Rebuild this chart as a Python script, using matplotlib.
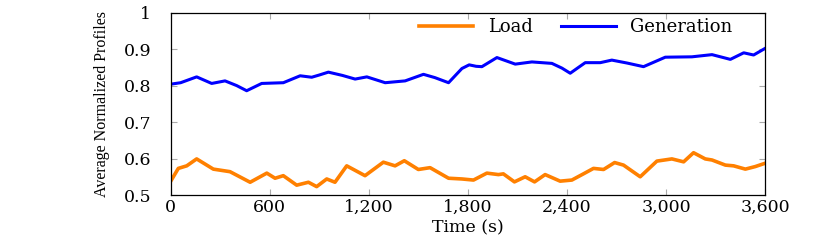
import matplotlib
matplotlib.use("Agg")
import matplotlib.pyplot as plt
from matplotlib.ticker import FuncFormatter, FixedLocator

# Data
gen_t = [0, 60, 157, 248, 329, 400, 460, 551, 682, 784, 854, 899, 955, 1040, 1117, 1188,
         1299, 1420, 1531, 1600, 1683, 1764, 1808, 1850, 1885, 1976, 2087, 2188, 2309,
         2370, 2420, 2470, 2511, 2602, 2672, 2764, 2864, 2996, 3157, 3279, 3390, 3471,
         3531, 3600]
gen_v = [0.804, 0.808, 0.824, 0.806, 0.813, 0.800, 0.786, 0.806, 0.808, 0.827, 0.823, 0.829,
         0.837, 0.828, 0.818, 0.824, 0.808, 0.813, 0.831, 0.822, 0.808, 0.847, 0.857, 0.853,
         0.852, 0.877, 0.859, 0.865, 0.861, 0.848, 0.834, 0.850, 0.863, 0.863, 0.870, 0.862,
         0.852, 0.878, 0.879, 0.885, 0.872, 0.890, 0.884, 0.902]

load_t = [0, 46, 97, 157, 258, 359, 481, 582, 632, 682, 763, 834, 884, 945, 995, 1066,
          1177, 1288, 1359, 1415, 1500, 1571, 1683, 1764, 1834, 1915, 1985, 2015, 2082,
          2147, 2204, 2268, 2359, 2430, 2500, 2561, 2622, 2689, 2743, 2844, 2945, 3036,
          3107, 3167, 3238, 3279, 3360, 3410, 3481, 3541, 3600]
load_v = [0.538, 0.573, 0.580, 0.599, 0.571, 0.564, 0.535, 0.560, 0.546, 0.553, 0.527,
          0.535, 0.523, 0.544, 0.535, 0.580, 0.553, 0.590, 0.580, 0.594, 0.570, 0.575,
          0.546, 0.544, 0.541, 0.560, 0.556, 0.558, 0.536, 0.550, 0.536, 0.556, 0.538,
          0.541, 0.558, 0.573, 0.570, 0.589, 0.582, 0.550, 0.593, 0.599, 0.591, 0.616,
          0.599, 0.596, 0.582, 0.580, 0.571, 0.578, 0.587]

x_ticks = [0, 600, 1200, 1800, 2400, 3000, 3600]
y_ticks = [0.5, 0.6, 0.7, 0.8, 0.9, 1.0]

plt.rcParams['font.family'] = ['DejaVu Serif']

fig = plt.figure(figsize=(8.3, 2.43), dpi=100)
ax = fig.add_axes([0.2057, 0.1975, 0.7160, 0.7502])

ax.plot(load_t, load_v, color=(1.0, 0.5, 0.0), lw=2.6, label='Load', solid_joinstyle='round')
ax.plot(gen_t, gen_v, color=(0.0, 0.0, 1.0), lw=2.2, label='Generation', solid_joinstyle='round')

ax.set_xlim(0, 3600)
ax.set_ylim(0.5, 1.0)
ax.xaxis.set_major_locator(FixedLocator(x_ticks))
ax.yaxis.set_major_locator(FixedLocator(y_ticks))
ax.xaxis.set_major_formatter(FuncFormatter(lambda v, p: f"{int(v):,}"))
ax.yaxis.set_major_formatter(FuncFormatter(lambda v, p: "1" if abs(v - 1) < 1e-9 else f"{v:.1f}"))

ax.tick_params(axis='both', which='major', direction='in', length=4, width=0.8,
               color='#aaaaaa', top=True, right=True, labelsize=12.5)
ax.tick_params(axis='y', pad=14)
ax.tick_params(axis='x', pad=3)
for s in ax.spines.values():
    s.set_color('black')
    s.set_linewidth(0.9)

ax.set_xlabel('Time (s)', fontsize=12.5, labelpad=2)
ax.set_ylabel('Average Normalized Profiles', fontsize=11.5, labelpad=10, fontfamily='Liberation Serif')

leg = ax.legend(loc='upper right', ncol=2, frameon=False, fontsize=13,
                handlelength=3.0, columnspacing=1.6, handletextpad=0.8,
                borderaxespad=0.1, bbox_to_anchor=(0.96, 1.02))

fig.savefig('out.png', dpi=100)
